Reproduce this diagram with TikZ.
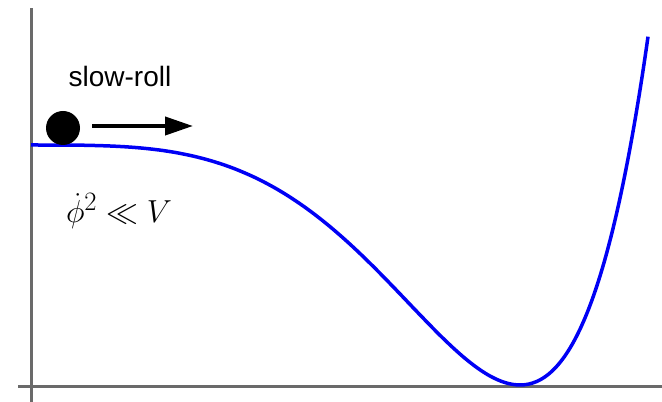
\documentclass[tikz,border=0pt]{standalone}
\usepackage{fontspec}
\setmainfont{Liberation Sans}
\usepackage{xcolor}
\usetikzlibrary{positioning, arrows.meta}
\definecolor{axisgray}{HTML}{6A6A6A}
\definecolor{potblue}{HTML}{0000F5}

\begin{document}
\begin{tikzpicture}[x=1pt, y=1pt,
    axisline/.style={draw=axisgray, line width=3pt},
    potline/.style={draw=potblue, line width=3.5pt}]
    \useasboundingbox (0,0) rectangle (662,402);

    % axes
    \coordinate (origin) at (31,15.5);
    \coordinate (ytop) at (31,394);
    \coordinate (ybot) at (31,0);
    \coordinate (xleft) at (18,15.5);
    \coordinate (xright) at (662,15.5);
    \draw[axisline] (ybot) -- (ytop);
    \draw[axisline] (xleft) -- (xright);

    % potential
    \draw[potline] (31,257) -- plot[domain=0.05:1.264, samples=150, smooth]
      ({31+489*\x}, {17+240*(1-pow(\x,3.4))^2});

    % ball and arrow
    \node[circle, fill=black, minimum size=34pt, inner sep=0pt] (ball) at (63,274) {};
    \coordinate (rollstart) at (92,276);
    \coordinate (rollend) at (193,276);
    \draw[line width=4pt, -{Triangle[length=28pt, width=18pt]}] (rollstart) -- (rollend);

    \node[font=\fontsize{28}{32}\selectfont] (slowroll) at (120,326) {slow-roll};
    \node[font=\fontsize{24.88}{28}\selectfont, scale=1.28] (cond) at (119,191) {$\dot\phi^2 \ll V$};
\end{tikzpicture}
\end{document}
